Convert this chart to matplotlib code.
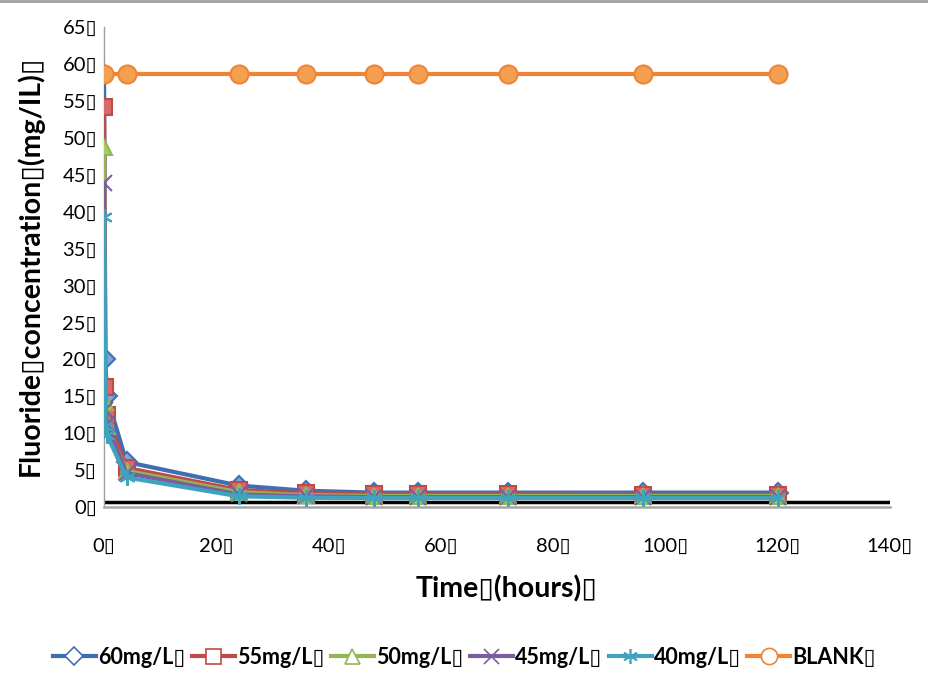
import numpy as np
import matplotlib

matplotlib.use('Agg')
import matplotlib.pyplot as plt
from matplotlib.lines import Line2D
from matplotlib.ticker import FuncFormatter

BOX = '\u25af'

# sampling times (hours)
times = [0, 0.25, 0.5, 4, 24, 36, 48, 56, 72, 96, 120]
blank_times = [0, 4, 24, 36, 48, 56, 72, 96, 120]

c60 = [58.5, 20.0, 15.0, 6.1, 2.9, 2.2, 1.95, 1.95, 1.95, 1.95, 1.95]
c55 = [54.2, 16.3, 12.5, 5.3, 2.3, 1.85, 1.7, 1.7, 1.7, 1.65, 1.65]
c50 = [48.7, 14.2, 11.0, 4.9, 2.0, 1.6, 1.5, 1.5, 1.5, 1.5, 1.5]
c45 = [43.9, 13.2, 11.2, 4.6, 1.7, 1.45, 1.35, 1.35, 1.35, 1.35, 1.35]
c40 = [39.3, 11.0, 9.8, 4.0, 1.45, 1.25, 1.2, 1.2, 1.2, 1.2, 1.2]
blank = [58.6, 58.6, 58.6, 58.6, 58.6, 58.6, 58.6, 58.6, 58.6]

ref_x = [0, 140]
ref_y = [0.65, 0.65]

labels = ['60mg/L', '55mg/L', '50mg/L', '45mg/L', '40mg/L', 'BLANK']
colors = ['#3F6FB3', '#BE4B48', '#93B553', '#7A5E9E', '#40A3BD', '#EE8434']
faces = ['#7FA6DD', '#D9686A', '#A8CC64', '#9A86B8', '#76C3D8', '#F5A050']
markers = ['D', 's', '^', 'x', (6, 2, 0), 'o']
msizes = [10, 12, 12, 12, 12, 13]

plt.rcParams['font.family'] = ['Lato', 'DejaVu Sans']

fig = plt.figure(figsize=(9.29, 6.74), dpi=100)
ax = fig.add_axes([0.112, 0.2478, 0.846, 0.712])

series = [(times, c60), (times, c55), (times, c50), (times, c45), (times, c40),
          (blank_times, blank)]
for (t, v), lab, col, fc, mk, ms in zip(series, labels, colors, faces, markers, msizes):
    ax.plot(t, v, color=col, linewidth=3, marker=mk, markersize=ms,
            markerfacecolor=fc, markeredgecolor=col, markeredgewidth=1.5,
            label=lab, zorder=3)

ax.plot(ref_x, ref_y, color='black', linewidth=2.5, zorder=2)

ax.set_xlim(0, 140)
ax.set_ylim(0, 65)
ax.set_xticks(np.arange(0, 141, 20))
ax.set_yticks(np.arange(0, 66, 5))
fmt = FuncFormatter(lambda v, p: f'{v:.0f}{BOX}')
ax.xaxis.set_major_formatter(fmt)
ax.yaxis.set_major_formatter(fmt)
ax.tick_params(length=0, labelsize=14.5, pad=5)
ax.tick_params(axis='x', pad=22)

for s in ['top', 'right']:
    ax.spines[s].set_visible(False)
ax.spines['left'].set_color('#A0A0A0')
ax.spines['left'].set_linewidth(1)
ax.spines['bottom'].set_color('#A6A6A6')
ax.spines['bottom'].set_linewidth(1.8)
ax.set_clip_on(False)

fig.text(0.032, 0.605, f'Fluoride{BOX}concentration{BOX}(mg/IL){BOX}', rotation=90,
         ha='center', va='center', fontsize=20.5, fontweight='bold')
fig.text(0.545, 0.127, f'Time{BOX}(hours){BOX}', ha='center', va='center',
         fontsize=20.5, fontweight='bold')

handles = [Line2D([], [], color=c, linewidth=3, marker=m, markersize=ms * 0.9,
                  markerfacecolor='white', markeredgecolor=c, markeredgewidth=1.2)
           for c, m, ms in zip(colors, markers, msizes)]
fig.legend(handles, [l + BOX for l in labels], loc='center', bbox_to_anchor=(0.5, 0.025),
           ncol=6, frameon=False, handlelength=2.0, handletextpad=0.1, columnspacing=0.3,
           prop={'size': 15.5, 'weight': 'bold'})

fig.add_artist(Line2D([0, 1], [0.998, 0.998], color='#A0A0A0', linewidth=2,
                      transform=fig.transFigure))

plt.savefig('out.png', dpi=100)
